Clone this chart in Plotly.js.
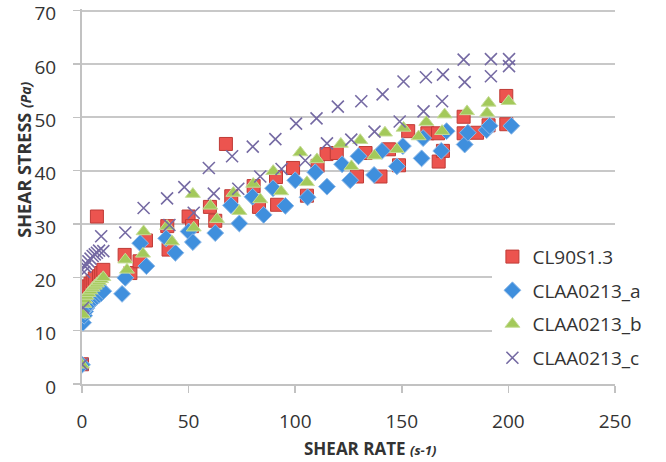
<!DOCTYPE html>
<html>
<head>
<meta charset="utf-8">
<script src="https://cdn.plot.ly/plotly-3.0.1.min.js"></script>
<style>html,body{margin:0;padding:0;background:#fff;}#chart{width:666px;height:462px;}</style>
</head>
<body>
<div id="chart"></div>
<script>
// Series names
const seriesNames = ["CL90S1.3", "CLAA0213_a", "CLAA0213_b", "CLAA0213_c"];

// CL90S1.3 (red squares)
const redX = [0,0.5,1,1.5,2,3,4,5,6,7,8,9,10,20,22.7,27,30,40,40.6,50,51.6,60,62.5,67.5,70,80.5,83,91,91.5,99,105.5,110.5,114.7,119.5,129,133,140,144,148.7,153,162,167,167.3,169.3,179,179,185.3,190.7,199,199];
const redY = [3.7,14.5,16,17,17.8,18.3,18.8,19.3,19.8,31.4,20.2,20.8,21.4,24.2,20.8,23,26.9,29.6,25.2,31.4,29.6,33.2,30.6,45,35.2,37.1,33.2,38.8,33.6,40.5,35.3,40.9,43.1,43.3,38.9,43.3,38.9,44,41,47.4,47,47,41.7,43.7,50.1,47,47.1,48.5,54,48.7];

// CLAA0213_a (blue diamonds)
const blueX = [0,0.5,1,1.5,2,3,4,5,6,7,8,9,10,18.8,20.3,27.3,30.2,39.5,43.8,50,52,62.5,69.9,73.8,80,85.2,89.6,95.4,100,105.8,109.4,114.9,122,125.8,129.7,137,140.7,147.7,150.5,159.3,160,168.5,171,179.5,181,189.8,191.2,201.4];
const blueY = [3.6,11.5,12.8,13.6,14.2,14.8,15.3,15.7,16.1,16.4,16.7,17,17.4,16.9,19.9,26.4,22.1,27.3,24.6,28.6,26.6,28.3,33.5,30.1,35.1,31.7,36.7,33.4,38.2,35,39.7,37,41.2,38.2,42.7,39.2,43.7,40.8,44.6,42.3,46.1,43.7,47.4,44.9,47.1,47.6,48.4,48.4];

// CLAA0213_b (green triangles)
const greenX = [0,0.5,1,1.5,2,3,4,5,6,7,8,9,10,20.3,21.1,28.6,28.9,39.9,42.2,52,52.4,60.2,63.3,71,73.8,80.3,83.6,89.7,93.4,102.4,105.5,110.2,121.4,126.4,130.5,137.2,142.1,147.7,150.8,157.9,161.5,168.9,170.1,180.6,190,190.7,200.1];
const greenY = [3.6,13,15,15.8,16.5,17,17.5,18,18.4,18.8,19.2,19.6,20,23.3,21.4,24.4,28.6,29.6,26.7,35.6,29.3,33.4,30.9,35.8,32.4,37.5,34.6,39.9,36.1,43.4,37.8,42.1,45,40.8,45.7,42.8,47.1,44,48,46.4,49.1,47.4,50.5,51.1,50.8,52.7,53];

// CLAA0213_c (purple crosses)
const purpleX = [0,0.5,1,1.5,2,3,4,5,6,7,8,9,10,20.3,28.9,39.9,48,59.5,70.4,80.1,90.7,100.4,110,120,131,141,150.8,161.3,169.3,179,191.8,200.3,41,52.4,61.8,73.3,83.6,93.6,104.7,114.9,126.3,137.2,149,160.2,168.9,179.5,191.8,200.3];
const purpleY = [3.7,14.3,21,22,22.5,23,23.5,24,24.3,24.6,25,27.7,24.9,28.4,33,34.8,36.9,40.5,42.7,44.5,45.9,48.8,49.8,52,53,54.3,56.7,57.5,58,60.8,60.9,60.9,29.8,32.1,35.7,36.6,38.9,40.3,41.9,45.1,45.8,47.3,49.2,51.1,53,56.6,57.7,59.6];

const xTicks = [0, 50, 100, 150, 200, 250];
const yTicks = [0, 10, 20, 30, 40, 50, 60, 70];
const xTitle = "<b>SHEAR RATE</b> <b><i><span style='font-size:13px'>(s-1)</span></i></b>";
const yTitle = "<b>SHEAR STRESS</b> <b><i><span style='font-size:14px'>(Pa)</span></i></b>";

const traces = [
  {x: redX, y: redY, name: seriesNames[0], legendgroup: "g1", type: "scatter", mode: "markers",
   marker: {symbol: "square", size: 13, color: "#ec544f", line: {color: "#bf3b36", width: 1}}},
  {x: blueX, y: blueY, name: seriesNames[1], legendgroup: "g2", type: "scatter", mode: "markers",
   marker: {symbol: "diamond", size: 13, color: "#3f8fdd", line: {color: "#8db9e8", width: 1}}},
  {x: greenX, y: greenY, name: seriesNames[2], legendgroup: "g3", type: "scatter", mode: "markers",
   marker: {symbol: "triangle-up", size: 13, color: "#a3c95a", line: {color: "#c6dd97", width: 1}}},
  {x: purpleX, y: purpleY, name: seriesNames[3], legendgroup: "g4", type: "scatter", mode: "markers",
   marker: {symbol: "x-thin", size: 12, color: "#756aa3", line: {color: "#756aa3", width: 1.6}}}
];

const tickFont = {family: "Open Sans, sans-serif", size: 19, color: "#333333"};

const layout = {
  width: 666, height: 462,
  margin: {l: 82, r: 51, t: 9, b: 78, pad: 0},
  paper_bgcolor: "#ffffff", plot_bgcolor: "#ffffff",
  showlegend: true,
  font: {family: "Open Sans, sans-serif", color: "#333333"},
  xaxis: {
    range: [0, 250], tickvals: xTicks, ticktext: xTicks.map(String),
    showgrid: false, zeroline: false,
    showline: true, linecolor: "#c2c2c2", linewidth: 2,
    ticks: "outside", ticklen: 7, tickcolor: "#c2c2c2", tickwidth: 1.5,
    tickfont: tickFont, ticklabelstandoff: 12, ticklabeloverflow: "allow"
  },
  yaxis: {
    range: [0, 70.3], tickvals: yTicks, ticktext: yTicks.map(String),
    showgrid: true, gridcolor: "#c8c8c8", gridwidth: 2, zeroline: false,
    showline: true, linecolor: "#c2c2c2", linewidth: 2,
    ticks: "outside", ticklen: 7, tickcolor: "#c2c2c2", tickwidth: 1.5,
    tickfont: tickFont, ticklabelstandoff: 13, ticklabelshift: 3, ticklabeloverflow: "allow"
  },
  annotations: [
    {text: xTitle, xref: "paper", yref: "paper", x: 0.54, y: -0.171, xanchor: "center", yanchor: "middle",
     showarrow: false, font: {family: "Open Sans, sans-serif", size: 17, color: "#333333"}},
    {text: yTitle, xref: "paper", yref: "paper", x: -0.109, y: 0.598, xanchor: "center", yanchor: "middle",
     textangle: -90, showarrow: false, font: {family: "Open Sans, sans-serif", size: 18, color: "#333333"}}
  ],
  legend: {
    x: 0.77, xanchor: "left", y: 0.39, yanchor: "top",
    bgcolor: "#ffffff", borderwidth: 0,
    font: {family: "Open Sans, sans-serif", size: 19, color: "#333333"},
    tracegroupgap: 6, itemwidth: 30
  }
};

Plotly.newPlot("chart", traces, layout, {displayModeBar: false, staticPlot: true});
</script>
</body>
</html>
